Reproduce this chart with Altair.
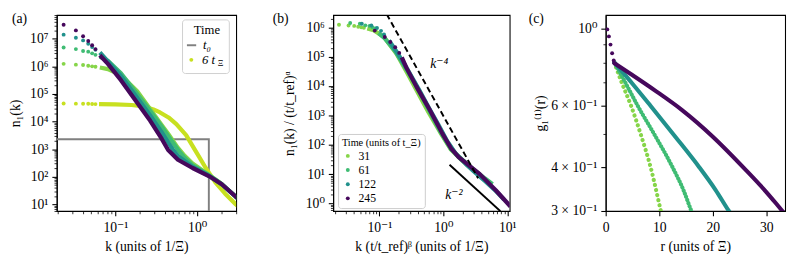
import math
import altair as alt
import pandas as pd

FONT = "Liberation Serif, DejaVu Serif, Noto Serif, Times New Roman, serif"

C_6 = "#c8e020"
C_31 = "#86d549"
C_61 = "#3fbc73"
C_122 = "#21918c"
C_245 = "#46085c"
C_T0 = "#808080"

# ---------------- Panel (a) ----------------
A_XDOM = [0.0192, 3.0]
A_YDOM = [5.8, 7.2e7]
A_XTICKS = [0.1, 1.0]
A_XLABELS = ["10⁻¹", "10⁰"]
A_YTICKS = [1e1, 1e2, 1e3, 1e4, 1e5, 1e6, 1e7]
A_YLABELS = ["10¹", "10²", "10³", "10⁴", "10⁵", "10⁶", "10⁷"]

A_T0_K = [0.01, 1.39, 1.39]
A_T0_N = [2.3e3, 2.3e3, 1.0]

A_DOT_K = [0.0233, 0.0329, 0.0403, 0.0466, 0.0520, 0.0571]
A_DOT_N_6 = [4.5e4, 4.45e4, 4.4e4, 4.4e4, 4.35e4, 4.3e4]
A_DOT_N_31 = [1.23e6, 1.15e6, 1.12e6, 1.05e6, 1.0e6, 0.97e6]
A_DOT_N_61 = [4.8e6, 4.2e6, 3.6e6, 3.4e6, 2.95e6, 2.6e6]
A_DOT_N_122 = [1.4e7, 1.08e7, 8.7e6, 6.6e6, 5.0e6, 4.0e6]
A_DOT_N_245 = [3.2e7, 2.0e7, 1.23e7, 8.3e6, 5.8e6, 4.2e6]

A_LINE_K_6 = [0.0631, 0.1, 0.158, 0.224, 0.292, 0.352, 0.447, 0.557, 0.733, 0.964, 1.27, 1.67, 2.20, 2.98, 3.55]
A_LINE_N_6 = [4.3e4, 4.17e4, 3.98e4, 3.55e4, 2.75e4, 2.14e4, 1.41e4, 8.13e3, 3.24e3, 832, 214, 63.1, 24.5, 10, 6.3]
A_LINE_K_31 = [0.0646, 0.0811, 0.117, 0.185, 0.267, 0.368, 0.442, 0.582, 0.708, 0.879, 1.39, 2.0, 3.0, 3.55]
A_LINE_N_31 = [9.1e5, 7.94e5, 4.79e5, 1.26e5, 2.82e4, 7.59e3, 3.63e3, 1.12e3, 562, 302, 120, 55, 18.6, 12.6]
A_LINE_K_61 = [0.0646, 0.0811, 0.117, 0.185, 0.267, 0.368, 0.442, 0.582, 0.708, 0.879, 1.39, 2.0, 3.0, 3.55]
A_LINE_N_61 = [2.24e6, 1.58e6, 5.62e5, 1.0e5, 2.4e4, 6.61e3, 3.02e3, 955, 479, 263, 115, 53.7, 18.6, 12.6]
A_LINE_K_122 = [0.0646, 0.0811, 0.117, 0.185, 0.267, 0.368, 0.442, 0.501, 0.582, 0.879, 1.39, 2.0, 3.0, 3.55]
A_LINE_N_122 = [3.16e6, 1.51e6, 4.47e5, 7.24e4, 1.66e4, 4.17e3, 1.78e3, 1.0e3, 575, 229, 110, 53.7, 18.6, 12.6]
A_LINE_K_245 = [0.0646, 0.0811, 0.117, 0.185, 0.267, 0.368, 0.442, 0.582, 0.879, 1.39, 2.0, 3.0, 3.55]
A_LINE_N_245 = [2.51e6, 1.23e6, 3.16e5, 4.79e4, 1.07e4, 2.40e3, 933, 417, 209, 107, 53.7, 18.6, 12.6]

# ---------------- Panel (b) ----------------
B_XDOM = [0.0189, 10.9]
B_YDOM = [0.555, 2.63e6]
B_XTICKS = [0.1, 1.0, 10.0]
B_XLABELS = ["10⁻¹", "10⁰", "10¹"]
B_YTICKS = [1, 1e1, 1e2, 1e3, 1e4, 1e5, 1e6]
B_YLABELS = ["10⁰", "10¹", "10²", "10³", "10⁴", "10⁵", "10⁶"]
B_SERIES = ["31", "61", "122", "245"]

B_DOT_K_31 = [0.0233, 0.0329, 0.0403, 0.0466, 0.0520, 0.0571]
B_DOT_N_31 = [1.23e6, 1.15e6, 1.12e6, 1.05e6, 1.0e6, 0.97e6]
B_DOT_K_61 = [0.0349, 0.0494, 0.0603, 0.070, 0.0783, 0.0859]
B_DOT_N_61 = [1.41e6, 1.32e6, 1.17e6, 1.12e6, 1.0e6, 9.1e5]
B_DOT_K_122 = [0.053, 0.0748, 0.0916, 0.106, 0.118]
B_DOT_N_122 = [1.32e6, 1.15e6, 9.55e5, 7.59e5, 5.75e5]
B_DOT_K_245 = [0.0845, 0.1213, 0.148, 0.1766, 0.2042]
B_DOT_N_245 = [7.76e5, 4.68e5, 3.16e5, 2.09e5, 1.35e5]

B_LINE_K_31 = [0.0646, 0.0811, 0.117, 0.185, 0.267, 0.368, 0.582, 0.879, 1.3, 2.0, 3.5]
B_LINE_N_31 = [9.1e5, 7.94e5, 4.79e5, 1.26e5, 3.02e4, 8.3e3, 1.32e3, 282, 70.8, 28.2, 10]
B_LINE_K_61 = [0.0968, 0.1216, 0.1754, 0.278, 0.401, 0.552, 0.873, 1.318, 2.084, 3.006, 4.498, 5.888]
B_LINE_N_61 = [6.31e5, 4.17e5, 1.58e5, 3.16e4, 7.94e3, 2.09e3, 316, 70.8, 28.2, 14.1, 7.08, 4.57]
B_LINE_K_122 = [0.141, 0.1845, 0.266, 0.422, 0.608, 0.838, 1.151, 1.585, 2.239, 3.162, 4.56, 6.82, 8.91]
B_LINE_N_122 = [3.55e5, 1.51e5, 4.17e4, 7.24e3, 1.66e3, 479, 132, 47.9, 22.4, 11.2, 5.62, 2.51, 1.35]
B_LINE_K_245 = [0.2239, 0.265, 0.3776, 0.605, 0.966, 1.318, 1.738, 2.512, 3.715, 6.607, 11.22]
B_LINE_N_245 = [9.55e4, 4.17e4, 9.77e3, 1.62e3, 240, 75.9, 38, 20, 10, 2.82, 0.79]

B_K4_K = [0.13, 3.5]
B_K4_N = [2.8e6, 7.2]
B_K2_K = [1.25, 7.8]
B_K2_N = [21, 0.55]
B_ANN_K = [0.86, 1.46]
B_ANN_N = [5.7e4, 1.9]
B_ANN_TXT = ["k⁻⁴", "k⁻²"]

# ---------------- Panel (c) ----------------
C_XDOM = [0, 33.5]
C_YDOM = [0.3, 1.094]
C_XTICKS = [0, 10, 20, 30]
C_YTICKS = [0.3, 0.4, 0.6, 1.0]
C_YLABELS = ["3 × 10⁻¹", "4 × 10⁻¹", "6 × 10⁻¹", "10⁰"]
C_YMINOR = [0.5, 0.7, 0.8, 0.9]

C_DOT_R = [0.3, 0.6, 0.9, 1.2, 1.5]
C_DOT_G = [0.995, 0.95, 0.90, 0.85, 0.81]
C_R_31 = [1.6, 3.0, 4.75, 6.5, 8.4, 10.3, 11.0]
C_G_31 = [0.80, 0.70, 0.60, 0.50, 0.40, 0.30, 0.27]
C_R_61 = [1.6, 4.0, 6.0, 9.0, 12.5, 14.5, 16.0, 16.8]
C_G_61 = [0.80, 0.685, 0.60, 0.50, 0.40, 0.345, 0.30, 0.28]
C_R_122 = [1.6, 5.0, 8.4, 13.0, 17.5, 20.5, 23.0, 24.0]
C_G_122 = [0.80, 0.695, 0.60, 0.49, 0.40, 0.345, 0.30, 0.285]
C_R_245 = [1.6, 4.75, 9.5, 14.2, 20.0, 26.05, 30.0, 33.0, 34.0]
C_G_245 = [0.796, 0.740, 0.66, 0.585, 0.49, 0.395, 0.34, 0.30, 0.288]


# ---------------- helpers ----------------
def minor_log(lo, hi, majors):
    out = []
    e = math.floor(math.log10(lo))
    while 10 ** e <= hi:
        for m in range(2, 10):
            v = m * 10 ** e
            if lo <= v <= hi and not any(abs(v / mj - 1) < 1e-6 for mj in majors):
                out.append(v)
        e += 1
    return out


def lab_expr(vals, labs):
    expr = "''"
    for v, l in reversed(list(zip(vals, labs))):
        expr = f"abs(log(datum.value) - log({v})) < 0.001 ? '{l}' : ({expr})"
    return expr


def frame(x, y, s="s"):
    return pd.DataFrame({"x": x, "y": y, "s": s})


def scale(dom, typ):
    if typ == "linear":
        return alt.Scale(type="linear", domain=dom, nice=False, zero=False)
    return alt.Scale(type=typ, domain=dom, nice=False)


def enc(dom_x, tx, dom_y, ty, ax_x=None, ax_y=None):
    return dict(
        x=alt.X("x:Q", scale=scale(dom_x, tx), axis=ax_x),
        y=alt.Y("y:Q", scale=scale(dom_y, ty), axis=ax_y),
    )


W_A, W_B, W_C, H = 184, 181, 184, 201
FS = 14


def major_axes(xt, xl, yt, yl, xtitle, ytitle, ytp, xlinear=False):
    axx = dict(values=xt, title=xtitle, orient="bottom", tickSize=5, labelPadding=5,
               labelFlush=False, labelOverlap=False, titlePadding=6)
    if not xlinear:
        axx["labelExpr"] = lab_expr(xt, xl)
    axy = dict(values=yt, labelExpr=lab_expr(yt, yl), title=ytitle, orient="left",
               tickSize=5, labelPadding=4, labelFlush=False, labelOverlap=False,
               titlePadding=ytp)
    return alt.Axis(**axx), alt.Axis(**axy)


def minor_axes(xm, ym):
    common = dict(labels=False, domain=False, tickSize=2.8, tickWidth=0.8, title=None)
    ax_x = alt.Axis(values=xm, orient="bottom", **common) if xm else None
    ax_y = alt.Axis(values=ym, orient="left", **common) if ym else None
    return ax_x, ax_y


def panel_label(txt, dx):
    return alt.Chart(pd.DataFrame({"a": [0]})).mark_text(
        text=txt, align="left", baseline="top", font=FONT, fontSize=FS, color="black"
    ).encode(x=alt.value(dx), y=alt.value(-3))


# ---------------- build (a) ----------------
def build_a():
    ex = lambda ax=None, ay=None: enc(A_XDOM, "log", A_YDOM, "log", ax, ay)
    dummy = frame([A_XDOM[0], A_XDOM[1]], [A_YDOM[0], A_YDOM[1]])
    axx, axy = major_axes(A_XTICKS, A_XLABELS, A_YTICKS, A_YLABELS,
                          "k (units of 1/Ξ)", "n₁(k)", 7)
    mx, my = minor_axes(minor_log(A_XDOM[0], A_XDOM[1], A_XTICKS),
                        minor_log(A_YDOM[0], A_YDOM[1], A_YTICKS))
    layers = [
        alt.Chart(dummy).mark_point(opacity=0).encode(**ex(mx, my)),
        alt.Chart(dummy).mark_point(opacity=0).encode(**ex(axx, axy)),
        alt.Chart(frame(A_T0_K, A_T0_N)).mark_line(color=C_T0, strokeWidth=2, clip=True).encode(**ex()),
    ]
    for dots, lk, ln, col in [
        (A_DOT_N_6, A_LINE_K_6, A_LINE_N_6, C_6),
        (A_DOT_N_31, A_LINE_K_31, A_LINE_N_31, C_31),
        (A_DOT_N_61, A_LINE_K_61, A_LINE_N_61, C_61),
        (A_DOT_N_122, A_LINE_K_122, A_LINE_N_122, C_122),
        (A_DOT_N_245, A_LINE_K_245, A_LINE_N_245, C_245),
    ]:
        layers.append(alt.Chart(frame(A_DOT_K, dots)).mark_circle(
            color=col, size=16, opacity=1, clip=True).encode(**ex()))
        layers.append(alt.Chart(frame(lk, ln)).mark_line(
            color=col, strokeWidth=4.3, clip=True, strokeJoin="round").encode(**ex()))
    one = pd.DataFrame({"a": [0]})
    layers += [
        alt.Chart(one).mark_rect(fill="white", stroke="#cccccc", strokeWidth=1, cornerRadius=3, opacity=0.9)
        .encode(x=alt.value(129), x2=alt.value(177), y=alt.value(5), y2=alt.value(60)),
        alt.Chart(one).mark_text(text="Time", font=FONT, fontSize=13, align="center", baseline="middle")
        .encode(x=alt.value(154), y=alt.value(15)),
        alt.Chart(one).mark_rule(color=C_T0, strokeWidth=2)
        .encode(x=alt.value(133.5), x2=alt.value(143), y=alt.value(31)),
        alt.Chart(one).mark_text(text="t₀", font=FONT, fontSize=13, fontStyle="italic", align="left", baseline="middle")
        .encode(x=alt.value(150), y=alt.value(31)),
        alt.Chart(one).mark_circle(color=C_6, size=16, opacity=1)
        .encode(x=alt.value(138), y=alt.value(46)),
        alt.Chart(one).mark_text(text="6 t", font=FONT, fontSize=13, fontStyle="italic", align="left", baseline="middle")
        .encode(x=alt.value(149), y=alt.value(46)),
        alt.Chart(one).mark_text(text="Ξ", font=FONT, fontSize=9, align="left", baseline="middle")
        .encode(x=alt.value(165), y=alt.value(49.5)),
        panel_label("(a)", -46),
    ]
    return alt.layer(*layers).resolve_axis(x="independent", y="independent").properties(width=W_A, height=H)


# ---------------- build (b) ----------------
def build_b():
    ex = lambda ax=None, ay=None: enc(B_XDOM, "log", B_YDOM, "log", ax, ay)
    dummy = frame([B_XDOM[0], B_XDOM[1]], [B_YDOM[0], B_YDOM[1]])
    axx, axy = major_axes(B_XTICKS, B_XLABELS, B_YTICKS, B_YLABELS,
                          "k (t/t_ref)ᵝ (units of 1/Ξ)", "n₁(k) / (t/t_ref)ᵅ", 9)
    mx, my = minor_axes(minor_log(B_XDOM[0], B_XDOM[1], B_XTICKS),
                        minor_log(B_YDOM[0], B_YDOM[1], B_YTICKS))
    cscale = alt.Scale(domain=B_SERIES, range=[C_31, C_61, C_122, C_245])
    legend = alt.Legend(
        title="Time (units of t_Ξ)", orient="none", legendX=5, legendY=122,
        titleFont=FONT, titleFontSize=10.5, titleFontWeight="normal", titlePadding=2,
        labelFont=FONT, labelFontSize=12, symbolType="circle", symbolSize=16,
        symbolOpacity=1, symbolStrokeWidth=0, rowPadding=2.5, padding=4,
        strokeColor="#cccccc", fillColor="white", cornerRadius=3, labelOffset=5,
    )
    layers = [
        alt.Chart(dummy).mark_point(opacity=0).encode(**ex(mx, my)),
        alt.Chart(dummy).mark_point(opacity=0).encode(**ex(axx, axy)),
    ]
    for name, dk, dn, lk, ln, col in [
        ("31", B_DOT_K_31, B_DOT_N_31, B_LINE_K_31, B_LINE_N_31, C_31),
        ("61", B_DOT_K_61, B_DOT_N_61, B_LINE_K_61, B_LINE_N_61, C_61),
        ("122", B_DOT_K_122, B_DOT_N_122, B_LINE_K_122, B_LINE_N_122, C_122),
        ("245", B_DOT_K_245, B_DOT_N_245, B_LINE_K_245, B_LINE_N_245, C_245),
    ]:
        layers.append(alt.Chart(frame(dk, dn, name)).mark_circle(size=16, opacity=1, clip=True).encode(
            color=alt.Color("s:N", scale=cscale, legend=legend), **ex()))
        layers.append(alt.Chart(frame(lk, ln)).mark_line(
            color=col, strokeWidth=4.3, clip=True, strokeJoin="round").encode(**ex()))
    layers += [
        alt.Chart(frame(B_K4_K, B_K4_N)).mark_line(color="black", strokeWidth=2, strokeDash=[6, 3.5], clip=True).encode(**ex()),
        alt.Chart(frame(B_K2_K, B_K2_N)).mark_line(color="black", strokeWidth=2, clip=True).encode(**ex()),
        alt.Chart(pd.DataFrame({"x": B_ANN_K, "y": B_ANN_N, "t": B_ANN_TXT})).mark_text(
            font=FONT, fontSize=14, fontStyle="italic", align="center", baseline="middle").encode(
            text="t:N", **ex()),
        panel_label("(b)", -62),
    ]
    return alt.layer(*layers).resolve_axis(x="independent", y="independent").properties(width=W_B, height=H)


# ---------------- build (c) ----------------
def build_c():
    ex = lambda ax=None, ay=None: enc(C_XDOM, "linear", C_YDOM, "log", ax, ay)
    dummy = frame([C_XDOM[0] + 1, C_XDOM[1]], [C_YDOM[0], C_YDOM[1]])
    axx, axy = major_axes(C_XTICKS, None, C_YTICKS, C_YLABELS,
                          "r (units of Ξ)", "g₁⁽¹⁾(r)", 3, xlinear=True)
    mx, my = minor_axes(None, C_YMINOR)
    layers = [
        alt.Chart(dummy).mark_point(opacity=0).encode(**ex(None, my)),
        alt.Chart(dummy).mark_point(opacity=0).encode(**ex(axx, axy)),
    ]
    for r, g, col, dash in [
        (C_R_31, C_G_31, C_31, [0.1, 5.2]),
        (C_R_61, C_G_61, C_61, [0.1, 3.3]),
        (C_R_122, C_G_122, C_122, None),
        (C_R_245, C_G_245, C_245, None),
    ]:
        kw = dict(color=col, strokeWidth=4.2, clip=True, strokeCap="round", strokeJoin="round",
                  interpolate="monotone")
        if dash:
            kw["strokeDash"] = dash
        layers.append(alt.Chart(frame(r, g)).mark_line(**kw).encode(**ex()))
    layers += [
        alt.Chart(frame(C_DOT_R, C_DOT_G)).mark_circle(color=C_245, size=16, opacity=1, clip=True).encode(**ex()),
        panel_label("(c)", -79),
    ]
    return alt.layer(*layers).resolve_axis(x="independent", y="independent").properties(width=W_C, height=H)


chart = alt.hconcat(
    alt.hconcat(build_a(), build_b(), spacing=32.5).resolve_scale(color="independent"),
    build_c(),
    spacing=11,
).resolve_scale(color="independent").properties(padding=0).configure_view(
    stroke="black", strokeWidth=1.1
).configure_axis(
    grid=False, domainColor="black", domainWidth=1.1, tickColor="black", tickWidth=1.1,
    labelColor="black", titleColor="black", labelFont=FONT, titleFont=FONT,
    labelFontSize=FS, titleFontSize=FS, titleFontWeight="normal",
)

chart.save("out.html", embed_options={"renderer": "svg", "actions": False})
